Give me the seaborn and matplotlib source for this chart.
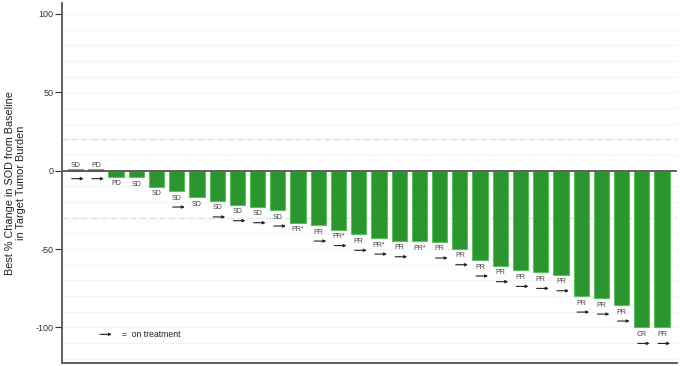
import matplotlib
matplotlib.use('Agg')
import matplotlib.pyplot as plt
from matplotlib.transforms import offset_copy
import pandas as pd
import seaborn as sns

sns.set_theme(style='white')
plt.rcParams['font.family'] = ['Liberation Sans', 'DejaVu Sans']
plt.rcParams['axes.unicode_minus'] = False

# best % change per patient, sorted
change = [1, 1, -3.8, -4.2, -10.2, -13, -16.8, -19.3, -21.7, -23, -25.1,
          -33.2, -34.7, -37.6, -40.6, -43, -44.7, -44.9, -45.5, -49.8, -57,
          -60.6, -63.6, -64.9, -66.4, -80, -81.3, -85.7, -100, -100]
response = ['SD', 'PD', 'PD', 'SD', 'SD', 'SD', 'SD', 'SD', 'SD', 'SD', 'SD',
            'PR*', 'PR', 'PR*', 'PR', 'PR*', 'PR', 'PR*', 'PR', 'PR', 'PR',
            'PR', 'PR', 'PR', 'PR', 'PR', 'PR', 'PR', 'CR', 'PR']
on_treatment = [1, 1, 0, 0, 0, 1, 0, 1, 1, 1, 1,
                0, 1, 1, 1, 1, 1, 0, 1, 1, 1,
                1, 1, 1, 1, 1, 1, 1, 1, 1]

df = pd.DataFrame({'patient': range(len(change)), 'change': change,
                   'response': response, 'on': on_treatment})

fig = plt.figure(figsize=(6.8, 3.66), dpi=100)
ax = fig.add_axes([0.091, 0.009, 0.9046, 0.983])

# faint grid every 10 and dashed reference lines
for g in range(-120, 101, 10):
    ax.axhline(g, color='#f4f4f4', lw=0.8, zorder=0)
ax.axhline(20, color='#e2e2e2', lw=1, ls=(0, (4, 3)), zorder=0)
ax.axhline(-30, color='#e2e2e2', lw=1, ls=(0, (4, 3)), zorder=0)

sns.barplot(data=df, x='patient', y='change', color='#2b962f', saturation=1,
            width=0.75, edgecolor='#5cbf5c', linewidth=0.8, ax=ax, zorder=2)
ax.axhline(0, color='#555555', lw=1.3, zorder=3)

for i, row in df.iterrows():
    v = row['change']
    if v >= 0:
        ly, ay, base = 5, -8, 0
    else:
        ly, ay, base = -7, -16, v
    ax.annotate(row['response'], xy=(i, base), xytext=(0, ly * 0.72),
                textcoords='offset points', ha='center', va='center',
                fontsize=5, color='#444444')
    if row['on']:
        ax.annotate('', xy=(i, base), xytext=(i, base),
                    xycoords=offset_copy(ax.transData, fig=fig, x=8, y=ay, units='dots'),
                    textcoords=offset_copy(ax.transData, fig=fig, x=-4, y=ay, units='dots'),
                    arrowprops=dict(arrowstyle='-|>', mutation_scale=4, lw=0.8,
                                    color='#222222', shrinkA=0, shrinkB=0))

# legend for the arrow
ax.annotate('', xy=(1.79, -104.4), xytext=(1.2, -104.4),
            arrowprops=dict(arrowstyle='-|>', mutation_scale=4, lw=0.8,
                            color='#222222', shrinkA=0, shrinkB=0))
ax.text(2.3, -104.4, '=  on treatment', va='center', ha='left',
        fontsize=6.2, color='#222222')

ax.set_xlim(-0.68, 29.74)
ax.set_ylim(-122.5, 107)
ax.set_yticks([100, 50, 0, -50, -100])
ax.set_xticks([])
ax.set_xlabel('')
ax.set_ylabel('Best % Change in SOD from Baseline\nin Target Tumor Burden',
              fontsize=7.8, color='#222222', labelpad=7, linespacing=1.1)
ax.tick_params(axis='y', labelsize=6.5, length=5, width=0.8, pad=1,
               colors='#333333', left=True)
for s in ['top', 'right']:
    ax.spines[s].set_visible(False)
for s in ['left', 'bottom']:
    ax.spines[s].set_color('#555555')
    ax.spines[s].set_linewidth(1.3)

fig.savefig('out.png', dpi=100)
